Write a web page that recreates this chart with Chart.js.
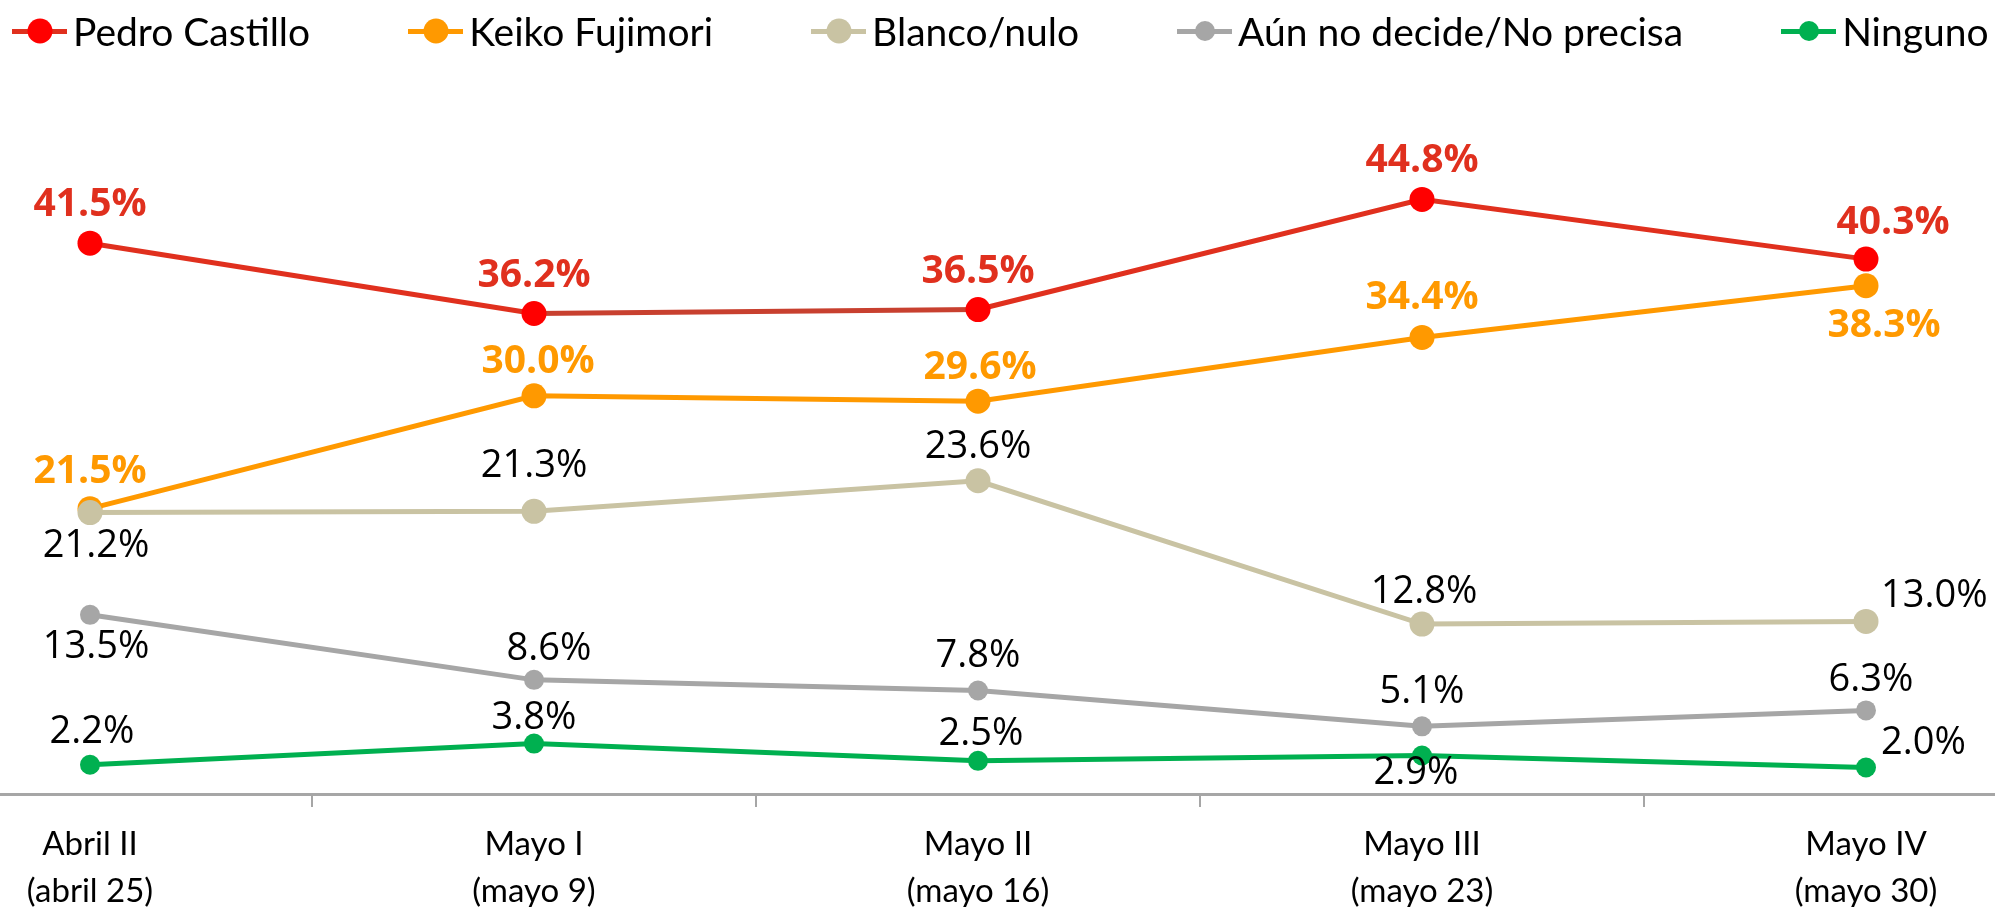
<!DOCTYPE html>
<html>
<head>
<meta charset="utf-8">
<script src="https://cdn.jsdelivr.net/npm/chart.js@4/dist/chart.umd.min.js"></script>
<style>
  html, body { margin: 0; padding: 0; background: #fff; }
  body { width: 1995px; height: 907px; overflow: hidden; position: relative; font-family: Lato, sans-serif; }
  #legend { position: absolute; left: 12px; top: 0; height: 62px; display: flex; align-items: center; white-space: nowrap; font-size: 39px; color: #000; z-index: 2; }
  .item { display: flex; align-items: center; margin-right: 98px; }
  .sym { position: relative; width: 55px; height: 5px; margin-right: 6px; }
  .sym span { position: absolute; left: 50%; top: 50%; border-radius: 50%; transform: translate(-50%, -50%); }
  #wrap { position: absolute; left: -132px; top: 0; width: 2220px; height: 907px; }
</style>
</head>
<body>
<div id="legend"></div>
<div id="wrap"><canvas id="chart"></canvas></div>
<script>
const categories = [
  ['Abril II', '(abril 25)'],
  ['Mayo I', '(mayo 9)'],
  ['Mayo II', '(mayo 16)'],
  ['Mayo III', '(mayo 23)'],
  ['Mayo IV', '(mayo 30)']
];
const castillo = [41.5, 36.2, 36.5, 44.8, 40.3];
const fujimori = [21.5, 30.0, 29.6, 34.4, 38.3];
const blanco = [21.2, 21.3, 23.6, 12.8, 13.0];
const noDecide = [13.5, 8.6, 7.8, 5.1, 6.3];
const ninguno = [2.2, 3.8, 2.5, 2.9, 2.0];

// label offsets from each point: [dx, dy, align]
const labelPos = [
  [[0, -38], [0, -38], [0, -38], [0, -38], [27, -36]],
  [[0, -37], [4, -34], [2, -33], [0, -40], [18, 40]],
  [[6, 34], [0, -45], [0, -34], [2, -32], [15, -25, 'left']],
  [[6, 32], [15, -31], [0, -34], [0, -34], [5, -30]],
  [[2, -33], [0, -25], [3, -27], [-6, 18], [15, -24, 'left']]
];

const series = [
  { label: 'Pedro Castillo', data: castillo, line: '#e0301e', dot: '#ff0000', r: 12.5, text: '#e0301e', bold: true, order: 1 },
  { label: 'Keiko Fujimori', data: fujimori, line: '#ff9900', dot: '#ff9900', r: 12.5, text: '#ff9900', bold: true, order: 3 },
  { label: 'Blanco/nulo', data: blanco, line: '#c9c3a3', dot: '#c9c3a3', r: 12.5, text: '#000', bold: false, order: 2 },
  { label: 'Aún no decide/No precisa', data: noDecide, line: '#a6a6a6', dot: '#a6a6a6', r: 10, text: '#000', bold: false, order: 4 },
  { label: 'Ninguno', data: ninguno, line: '#00b050', dot: '#00b050', r: 10, text: '#000', bold: false, order: 5 }
];

// legend
const legend = document.getElementById('legend');
series.forEach(s => {
  const item = document.createElement('div');
  item.className = 'item';
  item.innerHTML = `<div class="sym" style="background:${s.line}"><span style="width:${s.r * 2}px;height:${s.r * 2}px;background:${s.dot}"></span></div><span>${s.label}</span>`;
  legend.appendChild(item);
});

const valueLabels = {
  id: 'valueLabels',
  afterDatasetsDraw(chart) {
    const ctx = chart.ctx;
    chart.data.datasets.forEach((ds, i) => {
      const s = series[i];
      chart.getDatasetMeta(i).data.forEach((pt, j) => {
        const [dx, dy, align] = labelPos[i][j];
        ctx.save();
        ctx.font = s.bold ? 'bold 39px "Open Sans"' : '38px "Open Sans"';
        ctx.fillStyle = s.text;
        ctx.textAlign = align || 'center';
        ctx.textBaseline = 'middle';
        ctx.fillText(ds.data[j].toFixed(1) + '%', pt.x + dx, pt.y + dy);
        ctx.restore();
      });
    });
  }
};

new Chart(document.getElementById('chart'), {
  type: 'line',
  data: {
    labels: categories,
    datasets: series.map(s => ({
      label: s.label,
      data: s.data,
      borderColor: s.line,
      borderWidth: 5,
      backgroundColor: s.dot,
      pointBackgroundColor: s.dot,
      pointBorderWidth: 0,
      pointRadius: s.r,
      pointHoverRadius: s.r,
      tension: 0,
      order: s.order,
      segment: s.label === 'Pedro Castillo'
        ? { borderColor: c => (c.p0DataIndex === 1 ? '#c8402f' : undefined) }
        : undefined
    }))
  },
  options: {
    responsive: true,
    maintainAspectRatio: false,
    animation: false,
    layout: { autoPadding: false, padding: { top: 64, left: 0, right: 0, bottom: 0 } },
    plugins: {
      legend: { display: false },
      tooltip: { enabled: false }
    },
    scales: {
      x: {
        offset: true,
        grid: { display: true, offset: true, drawOnChartArea: false, drawTicks: true, tickLength: 13, color: '#a6a6a6', lineWidth: 2 },
        border: { display: true, color: '#a6a6a6', width: 3 },
        ticks: { color: '#000', font: { family: 'Lato', size: 33, lineHeight: 1.45 }, padding: 13, maxRotation: 0, autoSkip: false },
        afterFit(scale) { scale.height = 113; }
      },
      y: { display: false, min: 0, max: 55 }
    }
  },
  plugins: [valueLabels]
});
</script>
</body>
</html>
